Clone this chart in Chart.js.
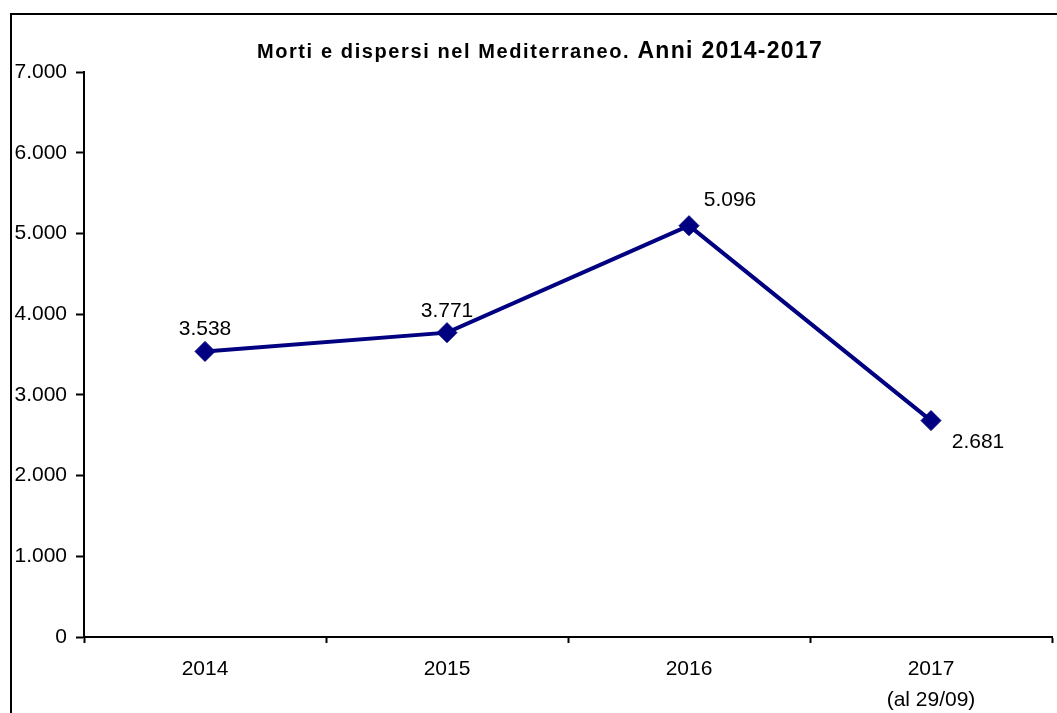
<!DOCTYPE html>
<html lang="it">
<head>
<meta charset="utf-8">
<title>Morti e dispersi nel Mediterraneo</title>
<script src="https://cdn.jsdelivr.net/npm/chart.js@4.4.0/dist/chart.umd.min.js"></script>
<style>
  html, body { margin: 0; padding: 0; background: #fff; }
  #wrap { width: 1057px; height: 713px; }
</style>
</head>
<body>
<div id="wrap"><canvas id="chart" width="1057" height="713"></canvas></div>
<script>
// dati del grafico
const anni = ['2014', '2015', '2016', ['2017', '(al 29/09)']];
const mortiDispersi = [3538, 3771, 5096, 2681];
const tickValori = [0, 1000, 2000, 3000, 4000, 5000, 6000, 7000];

const titoloParte1 = 'Morti e dispersi nel Mediterraneo. ';
const titoloParte2 = 'Anni 2014-2017';

// spostamento delle etichette rispetto al punto (x, y)
const offsetEtichette = [[0, -22], [0, -21], [41, -25], [47, 22]];

const FONT = '"Liberation Sans", Arial, sans-serif';

// formato italiano: 7.000
function formatIt(v) {
    return String(v).replace(/\B(?=(\d{3})+(?!\d))/g, '.');
}

// cornice, titolo ed etichette dei dati
const decorazioni = {
    id: 'decorazioni',
    beforeDraw(chart) {
        const ctx = chart.ctx;
        ctx.save();
        ctx.fillStyle = '#fff';
        ctx.fillRect(0, 0, chart.width, chart.height);
        ctx.fillStyle = '#000';
        ctx.fillRect(10, 13, 2, chart.height - 13);
        ctx.fillRect(10, 13, chart.width - 10, 2);
        ctx.restore();
    },
    afterDraw(chart) {
        const ctx = chart.ctx;
        ctx.save();
        ctx.fillStyle = '#000';
        ctx.textBaseline = 'alphabetic';
        ctx.textAlign = 'left';

        // titolo con due grandezze diverse
        ctx.font = 'bold 20px ' + FONT;
        ctx.letterSpacing = '1.6px';
        const w1 = ctx.measureText(titoloParte1).width;
        ctx.font = 'bold 23px ' + FONT;
        ctx.letterSpacing = '1.3px';
        const w2 = ctx.measureText(titoloParte2).width;
        let x = 540 - (w1 + w2) / 2;
        ctx.font = 'bold 20px ' + FONT;
        ctx.letterSpacing = '1.6px';
        ctx.fillText(titoloParte1, x, 58);
        ctx.font = 'bold 23px ' + FONT;
        ctx.letterSpacing = '1.3px';
        ctx.fillText(titoloParte2, x + w1, 58);
        ctx.letterSpacing = '0px';

        // etichette dei valori
        ctx.font = '21px ' + FONT;
        ctx.textAlign = 'center';
        ctx.textBaseline = 'middle';
        const meta = chart.getDatasetMeta(0);
        meta.data.forEach((pt, i) => {
            const off = offsetEtichette[i];
            ctx.fillText(formatIt(mortiDispersi[i]), pt.x + off[0], pt.y + off[1]);
        });
        ctx.restore();
    }
};

new Chart(document.getElementById('chart'), {
    type: 'line',
    data: {
        labels: anni,
        datasets: [{
            data: mortiDispersi,
            borderColor: '#000080',
            backgroundColor: '#000080',
            borderWidth: 4,
            pointStyle: 'rectRot',
            pointRadius: 10,
            pointHoverRadius: 10,
            pointBorderWidth: 1,
            pointBackgroundColor: '#000080',
            pointBorderColor: '#000080',
            tension: 0
        }]
    },
    options: {
        responsive: false,
        animation: false,
        events: [],
        layout: {
            autoPadding: false,
            padding: { top: 72, right: 5, bottom: 0, left: 0 }
        },
        plugins: {
            legend: { display: false },
            title: { display: false },
            tooltip: { enabled: false }
        },
        scales: {
            x: {
                type: 'category',
                offset: true,
                grid: {
                    display: true,
                    offset: true,
                    drawOnChartArea: false,
                    tickLength: 6,
                    tickColor: '#000',
                    tickWidth: 2
                },
                border: { display: true, color: '#000', width: 2 },
                ticks: {
                    color: '#000',
                    font: { family: FONT, size: 21, lineHeight: 1.5 },
                    padding: 10,
                    maxRotation: 0,
                    autoSkip: false
                },
                afterFit(scale) {
                    scale.height = 76;
                    scale.paddingLeft = 0;
                    scale.paddingRight = 0;
                }
            },
            y: {
                min: 0,
                max: 7000,
                grid: {
                    display: true,
                    drawOnChartArea: false,
                    tickLength: 8,
                    tickColor: '#000',
                    tickWidth: 2
                },
                border: { display: true, color: '#000', width: 2 },
                ticks: {
                    color: '#000',
                    font: { family: FONT, size: 21 },
                    padding: 9,
                    callback: v => formatIt(v)
                },
                afterBuildTicks(scale) {
                    scale.ticks = tickValori.map(v => ({ value: v }));
                },
                afterFit(scale) {
                    scale.width = 84;
                    scale.paddingTop = 0;
                    scale.paddingBottom = 0;
                }
            }
        }
    },
    plugins: [decorazioni]
});
</script>
</body>
</html>
